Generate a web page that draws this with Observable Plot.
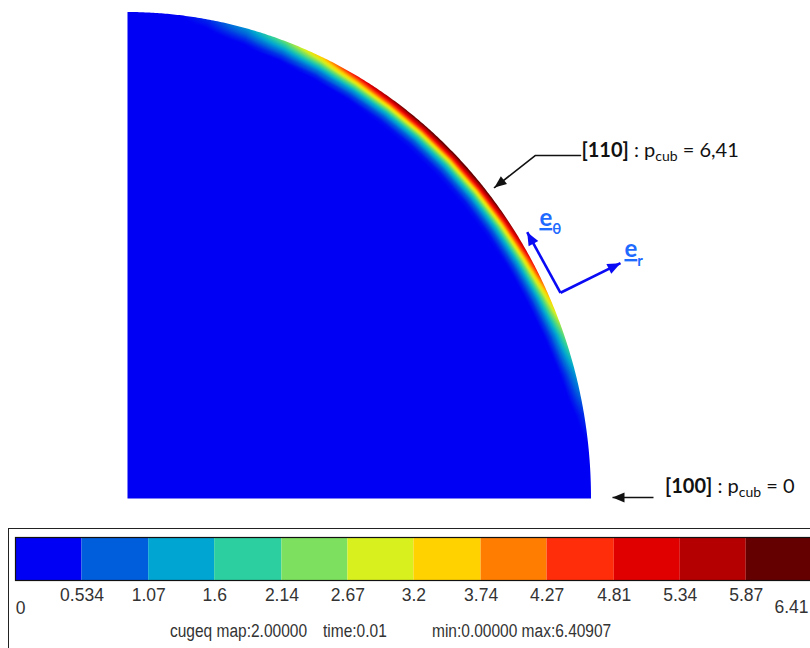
<!DOCTYPE html>
<html>
<head>
<meta charset="utf-8">
<script src="https://cdn.jsdelivr.net/npm/d3@7"></script>
<script src="https://cdn.jsdelivr.net/npm/@observablehq/plot@0.6"></script>
<style>
  html, body { margin: 0; padding: 0; background: #fff; width: 810px; height: 648px; overflow: hidden; }
  #main { position: absolute; left: 0; top: 0; }
  #legend { position: absolute; left: 0; top: 520px; }
  #box { position: absolute; left: 8px; top: 528px; width: 900px; height: 200px;
         border-top: 1px solid #222; border-left: 1px solid #222; pointer-events: none; z-index: 3; }
  .cap { position: absolute; top: 623px; font-family: "Liberation Sans", Arial, sans-serif;
         font-size: 15.5px; color: #333; white-space: nowrap; line-height: 16px;
         transform: scaleY(1.15); transform-origin: left center; }
</style>
</head>
<body>
<div id="main"></div>
<div id="legend"></div>
<div id="box"></div>
<script>
// ---------------- data ----------------
// polar angle (deg, 0 = [100] direction, 90 = top) and the p_cub value on the outer edge
const angleDeg  = [0, 5, 10, 15, 20, 25, 30, 35, 40, 45, 50, 55, 60, 65, 70, 75, 80, 85, 90];
const edgeValue = [0, 0.15, 0.55, 1.3, 2.4, 3.8, 5.2, 6.0, 6.38, 6.41, 6.3, 5.9, 5.0, 3.6, 2.3, 1.2, 0.5, 0.15, 0];
// relative radius and the fraction of the edge value found at that radius
const radius       = [1, 0.995, 0.99, 0.985, 0.98, 0.975, 0.97, 0.96, 0.95, 0.93, 0.9, 0.6, 0.3];
const radialFactor = [1, 0.87, 0.74, 0.6, 0.47, 0.36, 0.26, 0.13, 0.06, 0.02, 0, 0, 0];

// colour legend
const legendThresholds = [0, 0.534, 1.07, 1.6, 2.14, 2.67, 3.2, 3.74, 4.27, 4.81, 5.34, 5.87, 6.41];
const legendLabels = ["0", "0.534", "1.07", "1.6", "2.14", "2.67", "3.2", "3.74", "4.27", "4.81", "5.34", "5.87", "6.41"];
const legendColors = ["#0000f5", "#005edd", "#00a5d2", "#2ccfa0", "#7de15f", "#d7f01e",
                      "#ffd200", "#ff7d00", "#ff2d0a", "#e00000", "#b40000", "#640000"];
const captionTexts = ["cugeq map:2.00000", "time:0.01", "min:0.00000 max:6.40907"];

// annotations (unit-radius coordinates)
const arrow110 = [{x: 0.9763, y: 0.7058}, {x: 0.8793, y: 0.7058}, {x: 0.7909, y: 0.6399}];
const arrow100 = [{x1: 1.1336, y1: 0.0021, x2: 1.0453, y2: 0.0021}];
const basisVectors = [
  {x1: 0.9332, y1: 0.4233, x2: 0.8614, y2: 0.5479},
  {x1: 0.9332, y1: 0.4233, x2: 1.0625, y2: 0.4842}
];
const labelAnchors = {
  l110: {x: 0.9795, y: 0.7016},
  l100: {x: 1.1595, y: 0.0103},
  eTheta: {x: 0.8890, y: 0.5597},
  eR: {x: 1.0722, y: 0.4959}
};

// ---------------- build tables ----------------
const field = [];
angleDeg.forEach((a, i) => {
  const t = a * Math.PI / 180;
  radius.forEach((r, j) => {
    field.push({x: r * Math.cos(t), y: r * Math.sin(t), v: edgeValue[i] * radialFactor[j]});
  });
});
field.push({x: 0, y: 0, v: 0});

// outline of the quarter disk (used to mask the raster outside the domain)
const outline = d3.range(0, 90.001, 0.25).map(a => ({x: Math.cos(a * Math.PI / 180), y: Math.sin(a * Math.PI / 180)}));

const mids = legendColors.map((_, i) => (legendThresholds[i] + legendThresholds[i + 1]) / 2);
const colorScale = {type: "linear", domain: mids, range: legendColors, clamp: true, interpolate: "rgb"};

function head(len, wid) {
  return (color, context) => {
    const ns = "http://www.w3.org/2000/svg";
    const doc = (context && context.document) || document;
    const m = doc.createElementNS(ns, "marker");
    m.setAttribute("viewBox", `${-len - 1} ${-wid - 1} ${len + 2} ${2 * wid + 2}`);
    m.setAttribute("markerWidth", len + 2);
    m.setAttribute("markerHeight", 2 * wid + 2);
    m.setAttribute("markerUnits", "userSpaceOnUse");
    m.setAttribute("refX", 0);
    m.setAttribute("refY", 0);
    m.setAttribute("orient", "auto");
    m.setAttribute("overflow", "visible");
    const p = doc.createElementNS(ns, "path");
    p.setAttribute("d", `M0,0L${-len},${-wid}L${-len},${wid}Z`);
    p.setAttribute("fill", color);
    p.setAttribute("stroke", "none");
    m.appendChild(p);
    return m;
  };
}

// ---------------- main chart ----------------
const main = Plot.plot({
  width: 810, height: 520,
  marginLeft: 127, marginRight: 219, marginTop: 12, marginBottom: 22,
  x: {domain: [0, 1], axis: null},
  y: {domain: [0, 1], axis: null},
  color: colorScale,
  style: {background: "white", overflow: "visible"},
  marks: [
    Plot.raster(field, {x: "x", y: "y", fill: "v", interpolate: "barycentric", x1: 0, y1: 0, x2: 1.01, y2: 1.01}),
    Plot.areaY(outline, {x: "x", y1: "y", y2: 1.03, fill: "white"}),
    Plot.rect([0], {x1: 1, x2: 1.04, y1: -0.02, y2: 1.03, fill: "white"}),
    Plot.line(arrow110, {x: "x", y: "y", stroke: "#111", strokeWidth: 1.6, markerEnd: head(12, 5)}),
    Plot.link(arrow100, {x1: "x1", y1: "y1", x2: "x2", y2: "y2", stroke: "#111", strokeWidth: 1.6, markerEnd: head(12, 5)}),
    Plot.link(basisVectors, {x1: "x1", y1: "y1", x2: "x2", y2: "y2", stroke: "#0a0af5", strokeWidth: 2.6, markerEnd: head(13, 5.5)})
  ]
});
document.getElementById("main").appendChild(main);

// rich-text annotations placed through the chart's scales
const sx = main.scale("x"), sy = main.scale("y");
const svg = d3.select(main);
function rich(anchor, build, attrs) {
  const t = svg.append("text")
    .attr("x", sx.apply(anchor.x))
    .attr("y", sy.apply(anchor.y))
    .attr("text-anchor", "start")
    .attr("font-family", "Lato, 'Open Sans', sans-serif");
  Object.entries(attrs).forEach(([k, v]) => t.attr(k, v));
  build(t);
}
rich(labelAnchors.l110, t => {
  t.append("tspan").attr("font-weight", "bold").text("[110]");
  t.append("tspan").text(" : p");
  t.append("tspan").attr("font-size", 14).attr("dy", 4).text("cub");
  t.append("tspan").attr("dy", -4).text(" = 6,41");
}, {"font-size": 20, fill: "#111"});
rich(labelAnchors.l100, t => {
  t.append("tspan").attr("font-weight", "bold").text("[100]");
  t.append("tspan").text(" : p");
  t.append("tspan").attr("font-size", 14).attr("dy", 4).text("cub");
  t.append("tspan").attr("dy", -4).text(" = 0");
}, {"font-size": 20, fill: "#111"});
rich(labelAnchors.eTheta, t => {
  t.append("tspan").style("text-decoration", "underline").text("e");
  t.append("tspan").attr("font-size", 15).attr("dy", 8).text("θ");
}, {"font-size": 24, "font-weight": "bold", fill: "#1f6bff"});
rich(labelAnchors.eR, t => {
  t.append("tspan").style("text-decoration", "underline").text("e");
  t.append("tspan").attr("font-size", 15).attr("dy", 9).text("r");
}, {"font-size": 24, "font-weight": "bold", fill: "#1f6bff"});

// ---------------- legend ----------------
const cells = legendColors.map((c, i) => ({lo: legendThresholds[i], hi: legendThresholds[i + 1], mid: mids[i]}));
const labelRows = legendLabels.map((s, i) => ({value: legendThresholds[i], label: s}));
const inner = labelRows.slice(1, -1);
const legendFont = "'Liberation Sans', Arial, sans-serif";
const legend = Plot.plot({
  width: 810, height: 128,
  marginLeft: 15, marginRight: -4, marginTop: 17, marginBottom: 68,
  x: {domain: [0, 6.41], range: [15, 813], axis: null},
  color: colorScale,
  style: {background: "transparent"},
  marks: [
    Plot.rect(cells, {x1: "lo", x2: "hi", fill: "mid"}),
    Plot.frame({stroke: "#111", strokeWidth: 1.2}),
    Plot.text(inner, {x: "value", text: "label", frameAnchor: "bottom", dy: 20, fontSize: 17.5, fontFamily: legendFont, fill: "#333"}),
    Plot.text(labelRows.slice(0, 1), {x: "value", text: "label", frameAnchor: "bottom", dy: 33, dx: 5, fontSize: 17.5, fontFamily: legendFont, fill: "#333"}),
    Plot.text(labelRows.slice(-1), {x: "value", text: "label", frameAnchor: "bottom", dy: 32, dx: -22, fontSize: 17.5, fontFamily: legendFont, fill: "#333"})
  ]
});
document.getElementById("legend").appendChild(legend);

const capLeft = [170, 323, 432];
captionTexts.forEach((s, i) => {
  const d = document.createElement("div");
  d.className = "cap";
  d.style.left = capLeft[i] + "px";
  d.textContent = s;
  document.body.appendChild(d);
});
</script>
</body>
</html>
